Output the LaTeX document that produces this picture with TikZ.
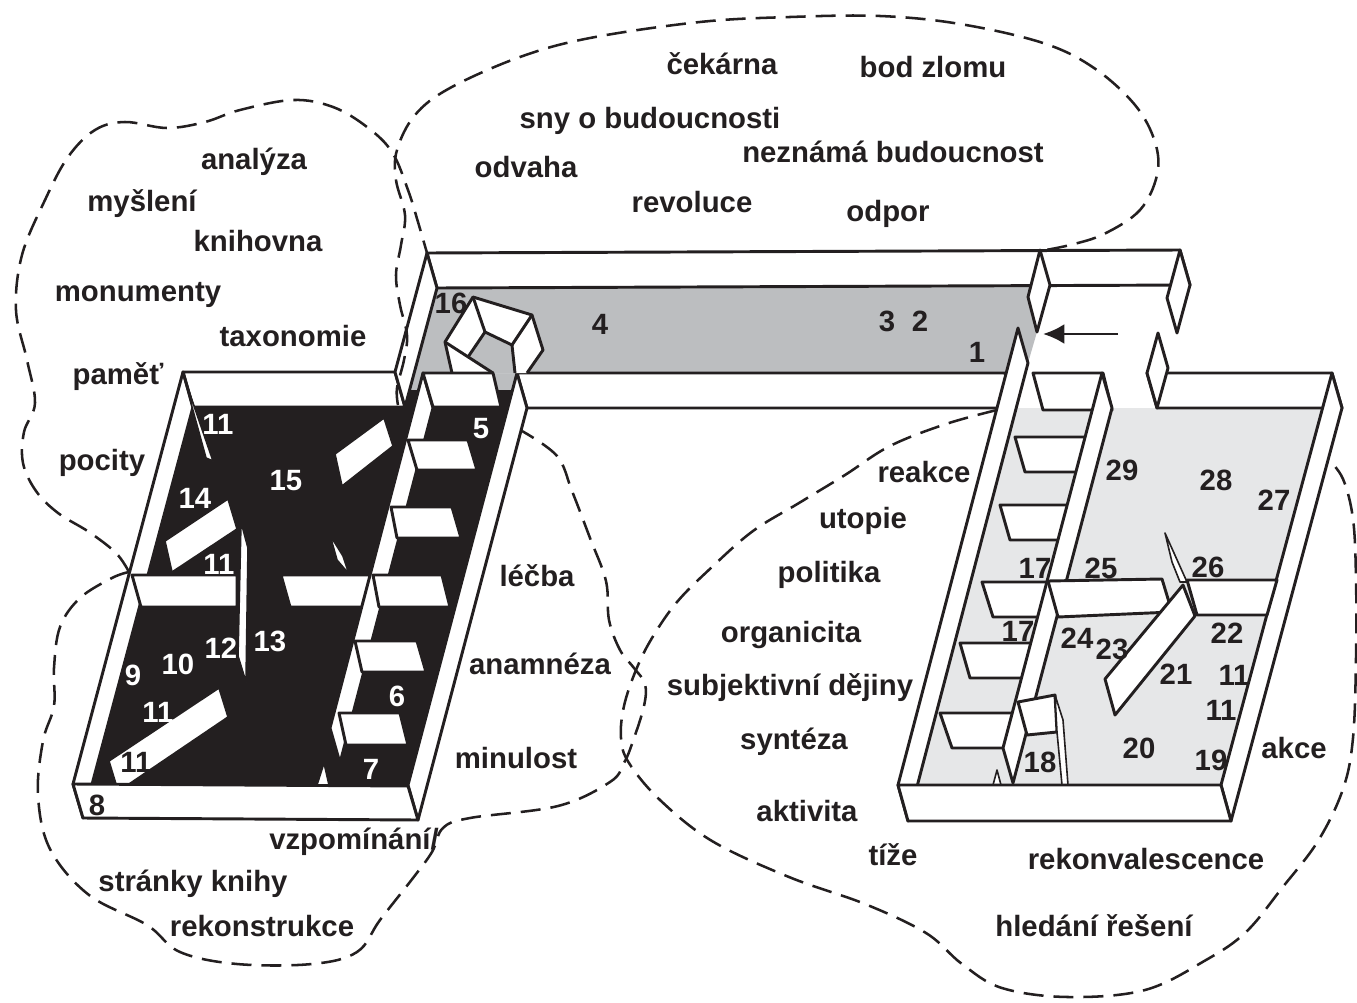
\documentclass[tikz,border=0pt]{standalone}
\usepackage{fontspec}
\setmainfont{Liberation Sans}
\usetikzlibrary{arrows.meta}
\definecolor{ink}{HTML}{231F20}
\definecolor{corr}{HTML}{BCBEC0}
\definecolor{lite}{HTML}{E6E7E8}
\begin{document}
\begin{tikzpicture}[x=0.75pt,y=-0.75pt,
  wall/.style={fill=white,draw=ink,line width=2.2pt,line join=round},
  sliv/.style={fill=white,draw=ink,line width=1.2pt,line join=round},
  edge/.style={draw=ink,line width=2.2pt,line join=round},
  cloud/.style={draw=ink,line width=1.9pt,dash pattern=on 15pt off 7.5pt},
  lbl/.style={font=\fontsize{22}{24}\selectfont\bfseries,text=ink,inner sep=0pt,text height=0.72em,text depth=0.2em,yshift=-3.5pt},
  wn/.style={lbl,text=white}]
\useasboundingbox (0,0) rectangle (1357,1003);
% ---------- floors
\fill[corr] (437,288) -- (1050,286) -- (1037,332) -- (1028,363) -- (1015,408) -- (527,408) -- (521,390) -- (408,390) -- cycle;
\fill[ink] (193,407) -- (402,407) -- (408,390) -- (521,390) -- (527,408) -- (418,820) -- (83,818) -- cycle;
\fill[lite] (1016,408) -- (1342,408) -- (1231,821) -- (908,821) -- cycle;
% ---------- back walls
\draw[wall] (427,253) -- (1180,250) -- (1190,285) -- (437,288) -- cycle;
\draw[wall] (183,372) -- (395,372) -- (405,407) -- (193,407) -- cycle;
\draw[wall] (427,253) -- (437,288) -- (405,407) -- (395,372) -- cycle;
\draw[wall] (1040,250) -- (1050,285) -- (1037,332) -- (1028,297) -- cycle;
\draw[wall] (1180,250) -- (1190,285) -- (1177,333) -- (1167,298) -- cycle;
\draw[wall] (1147,373) -- (1332,373) -- (1342,408) -- (1157,408) -- cycle;
\draw[wall] (1158,333) -- (1168,368) -- (1157,408) -- (1147,373) -- cycle;
\draw[wall] (517,373) -- (1005,373) -- (1015,408) -- (527,408) -- cycle;
% ---------- side walls
\draw[wall] (183,372) -- (193,407) -- (83,818) -- (73,784) -- cycle;
\draw[wall] (517,373) -- (527,408) -- (418,820) -- (408,785) -- cycle;
\draw[wall] (1018,328) -- (1028,363) -- (908,821) -- (898,785) -- cycle;
\draw[wall] (1332,373) -- (1342,408) -- (1231,821) -- (1221,785) -- cycle;
% ---------- room 16
\fill[white] (452,373) -- (445,342) -- (473,297) -- (532,315) -- (543,350) -- (527,373) -- cycle;
\draw[edge] (452,373) -- (445,342) -- (473,297) -- (532,315) -- (543,350) -- (527,373);
\fill[corr] (485,332) -- (512,345) -- (515,373) -- (493,373) -- (468,357) -- cycle;
\draw[edge] (515,373) -- (512,345) -- (485,332) -- (468,357);
\draw[edge] (445,342) -- (493,373);
\draw[edge] (473,297) -- (485,332) (512,345) -- (532,315);
% ---------- left building interior
\draw[sliv] (183,374) -- (213,461) -- (206,458) -- cycle;
\draw[sliv] (165,541) -- (228,499) -- (237,529) -- (172,572) -- cycle;
\draw[sliv] (335,454) -- (384,418) -- (393,446) -- (342,486) -- cycle;
\draw[sliv] (330,535) -- (343,556) -- (349,574) -- (337,560) -- cycle;
\draw[wall] (132,575) -- (237,575) -- (237,607) -- (141,607) -- cycle;
\draw[sliv] (241,522) -- (248,548) -- (246,682) -- (238,656) -- cycle;
\draw[wall] (281,575) -- (372,575) -- (381,607) -- (290,607) -- cycle;
\draw[sliv] (109,761) -- (219,688) -- (228,717) -- (129,784) -- (116,784) -- cycle;
\draw[sliv] (324,763) -- (329,785) -- (317,785) -- cycle;
\draw[wall] (423,373) -- (433,408) -- (340,763) -- (330,728) -- cycle;
\draw[wall] (423,373) -- (493,373) -- (501,407) -- (433,407) -- cycle;
\draw[wall] (408,440) -- (468,440) -- (477,470) -- (417,470) -- cycle;
\draw[wall] (391,507) -- (452,507) -- (461,538) -- (397,538) -- cycle;
\draw[wall] (373,575) -- (442,575) -- (450,607) -- (379,607) -- cycle;
\draw[wall] (355,641) -- (417,641) -- (426,672) -- (362,672) -- cycle;
\draw[wall] (339,713) -- (400,713) -- (408,745) -- (346,745) -- cycle;
% ---------- right building interior
\draw[wall] (1033,373) -- (1103,373) -- (1112,410) -- (1043,410) -- cycle;
\draw[wall] (1015,437) -- (1088,437) -- (1093,472) -- (1025,472) -- cycle;
\draw[wall] (1000,505) -- (1070,505) -- (1075,540) -- (1010,540) -- cycle;
\draw[wall] (982,582) -- (1050,582) -- (1055,617) -- (993,617) -- cycle;
\draw[wall] (960,643) -- (1034,643) -- (1039,678) -- (970,678) -- cycle;
\draw[wall] (940,713) -- (1015,713) -- (1020,748) -- (952,748) -- cycle;
\draw[wall] (1102,373) -- (1112,408) -- (1013,783) -- (1003,748) -- cycle;
\draw[wall] (1018,702) -- (1055,695) -- (1057,732) -- (1027,735) -- cycle;
\draw[sliv] (1055,695) -- (1063,720) -- (1068,785) -- (1062,785) -- (1057,732) -- cycle;
\draw[sliv] (997,770) -- (1001,785) -- (993,785) -- cycle;
\draw[wall] (1048,581) -- (1162,579) -- (1172,612) -- (1058,617) -- cycle;
\draw[sliv] (1165,533) -- (1187,582) -- (1180,582) -- (1172,562) -- cycle;
\draw[wall] (1105,679) -- (1183,585) -- (1195,616) -- (1115,715) -- cycle;
\draw[wall] (1187,580) -- (1277,580) -- (1267,615) -- (1197,615) -- cycle;
% ---------- front walls
\draw[wall] (73,784) -- (408,786) -- (418,820) -- (83,818) -- cycle;
\draw[wall] (898,785) -- (1221,785) -- (1231,821) -- (908,821) -- cycle;
% ---------- entrance arrow
\coordinate (arrT) at (1118,334);
\coordinate (arrH) at (1043,334);
\draw[draw=ink,line width=2.2pt,-{Latex[length=16pt,width=15pt]}] (arrT) -- (arrH);
% ---------- clouds
\draw[cloud] plot[smooth,tension=0.6] coordinates {(398,405) (397,388) (404,360) (407,335) (400,305) (396,275) (401,245) (405,215) (396,180) (397,150) (415,115) (450,88) (520,57) (590,38) (700,22) (790,17) (880,16) (960,24) (1043,43) (1094,68) (1135,105) (1155,142) (1157,175) (1140,210) (1104,234) (1070,245) (1040,251)};
\draw[cloud] plot[smooth,tension=0.6] coordinates {(129,572) (116,553) (89,532) (58,513) (36,491) (23,463) (24,432) (35,403) (27,360) (16,310) (22,255) (45,200) (68,157) (95,130) (125,122) (167,128) (205,122) (240,110) (293,100) (333,107) (367,127) (392,152) (408,190) (418,222) (427,253)};
\draw[cloud] plot[smooth,tension=0.6] coordinates {(129,572) (112,578) (80,598) (60,627) (54,668) (54,706) (43,741) (38,795) (50,849) (89,895) (147,925) (180,952) (237,964) (312,964) (357,952) (380,920) (413,878) (432,852) (443,828) (470,818) (558,806) (610,782) (624,763) (633,741) (644,706) (645,684) (634,668) (620,650) (609,620) (606,581) (590,538) (572,491) (557,456) (522,431)};
\draw[cloud] plot[smooth,tension=0.6] coordinates {(997,410) (946,424) (890,446) (845,475) (799,503) (753,531) (712,567) (677,602) (652,638) (636,670) (624,706) (621,738) (629,763) (660,800) (712,841) (789,877) (865,904) (926,933) (962,964) (1002,988) (1068,997) (1145,990) (1206,960) (1246,932) (1282,888) (1318,841) (1343,789) (1353,738) (1356,658) (1356,579) (1353,519) (1343,479) (1328,459)};
% ---------- words
\node[lbl] (analyza) at (254,161) {analýza};
\node[lbl] (mysleni) at (142,203) {myšlení};
\node[lbl] (knihovna) at (258,243) {knihovna};
\node[lbl] (monumenty) at (138,293) {monumenty};
\node[lbl] (taxonomie) at (293,338) {taxonomie};
\node[lbl] (pamet) at (118,376) {paměť};
\node[lbl] (pocity) at (102,462) {pocity};
\node[lbl] (cekarna) at (722,66) {čekárna};
\node[lbl] (bodzlomu) at (933,69) {bod zlomu};
\node[lbl] (sny) at (650,120) {sny o budoucnosti};
\node[lbl] (neznama) at (893,154) {neznámá budoucnost};
\node[lbl] (odvaha) at (526,169) {odvaha};
\node[lbl] (revoluce) at (692,204) {revoluce};
\node[lbl] (odpor) at (888,213) {odpor};
\node[lbl] (lecba) at (537,578) {léčba};
\node[lbl] (anamneza) at (540,666) {anamnéza};
\node[lbl] (minulost) at (516,760) {minulost};
\node[lbl] (vzpominani) at (354,841) {vzpomínání/};
\node[lbl] (stranky) at (193,883) {stránky knihy};
\node[lbl] (rekonstrukce) at (262,928) {rekonstrukce};
\node[lbl] (reakce) at (924,474) {reakce};
\node[lbl] (utopie) at (863,520) {utopie};
\node[lbl] (politika) at (829,574) {politika};
\node[lbl] (organicita) at (791,634) {organicita};
\node[lbl] (subjektivni) at (790,687) {subjektivní dějiny};
\node[lbl] (synteza) at (794,741) {syntéza};
\node[lbl] (aktivita) at (807,813) {aktivita};
\node[lbl] (tize) at (893,857) {tíže};
\node[lbl] (rekonv) at (1146,861) {rekonvalescence};
\node[lbl] (hledani) at (1094,928) {hledání řešení};
\node[lbl] (akce) at (1294,750) {akce};
% ---------- room numbers
\node[lbl] (r16) at (451,305) {16};
\node[lbl] (r4) at (600,326) {4};
\node[lbl] (r3) at (887,323) {3};
\node[lbl] (r2) at (920,323) {2};
\node[lbl] (r1) at (977,354) {1};
\node[wn] (r11a) at (218,426) {11};
\node[wn] (r15) at (286,482) {15};
\node[wn] (r14) at (195,500) {14};
\node[wn] (r11b) at (219,566) {11};
\node[wn] (r13) at (270,643) {13};
\node[wn] (r12) at (221,650) {12};
\node[wn] (r10) at (178,666) {10};
\node[wn] (r9) at (133,677) {9};
\node[wn] (r11c) at (158,714) {11};
\node[lbl] (r11d) at (136,764) {11};
\node[lbl] (r8) at (97,807) {8};
\node[wn] (r5) at (481,430) {5};
\node[wn] (r6) at (397,698) {6};
\node[wn] (r7) at (371,771) {7};
\node[lbl] (r29) at (1122,472) {29};
\node[lbl] (r28) at (1216,482) {28};
\node[lbl] (r27) at (1274,502) {27};
\node[lbl] (r17a) at (1035,570) {17};
\node[lbl] (r25) at (1101,570) {25};
\node[lbl] (r26) at (1208,569) {26};
\node[lbl] (r17b) at (1018,633) {17};
\node[lbl] (r24) at (1077,640) {24};
\node[lbl] (r23) at (1112,651) {23};
\node[lbl] (r22) at (1227,635) {22};
\node[lbl] (r21) at (1176,676) {21};
\node[lbl] (r11e) at (1234,677) {11};
\node[lbl] (r11f) at (1221,712) {11};
\node[lbl] (r20) at (1139,750) {20};
\node[lbl] (r19) at (1211,762) {19};
\node[lbl] (r18) at (1040,764) {18};
\end{tikzpicture}
\end{document}
